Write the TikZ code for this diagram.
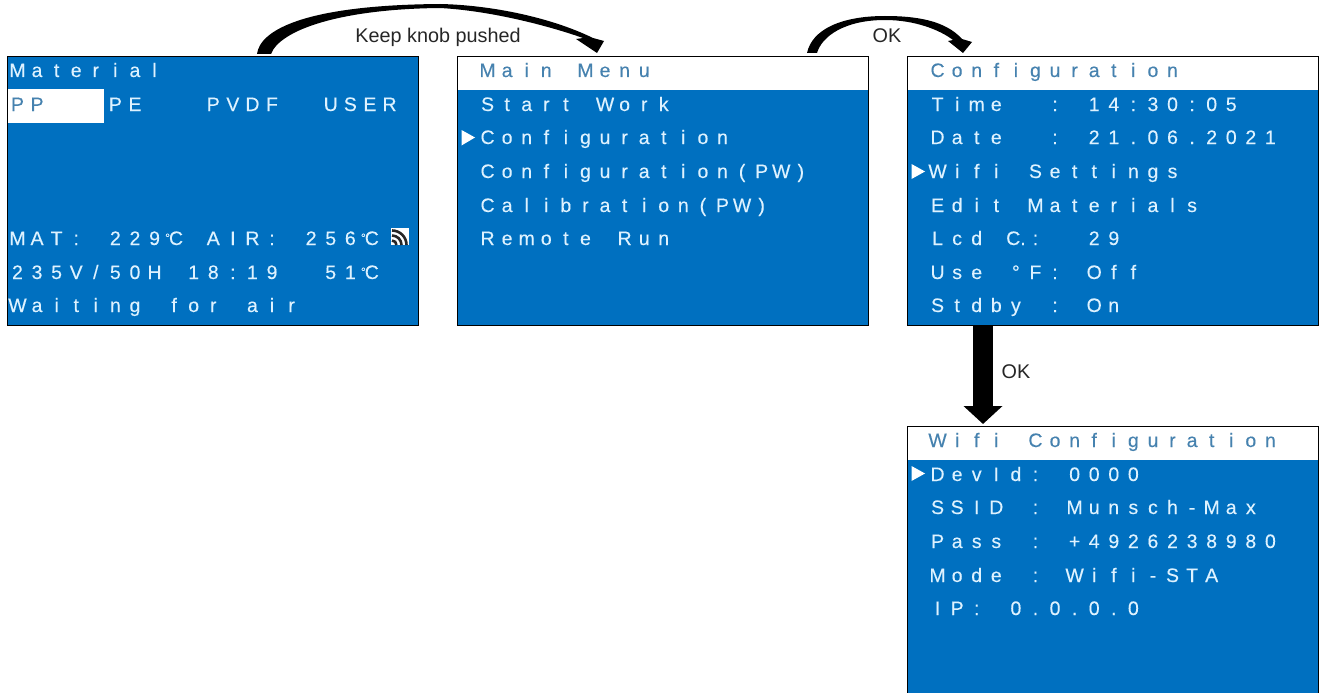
\documentclass[tikz,border=0pt]{standalone}
\usepackage{fontspec}
\setmainfont{Liberation Sans}
\usetikzlibrary{arrows.meta}
\definecolor{lcdblue}{RGB}{0,112,192}
\definecolor{lcdtext}{RGB}{222,242,255}
\definecolor{lcdtitle}{RGB}{70,130,175}
\newlength{\lcdw}
\setlength{\lcdw}{19.58pt}
\ExplSyntaxOn
\cs_new:Npn \lcd_cell:n #1
 { \str_if_eq:nnTF {#1} {℃}
   { \makebox[\lcdw][c]{\raisebox{3pt}{\fontsize{12}{12}\selectfont °}\kern-1pt C} }
   { \makebox[\lcdw][c]{#1} } }
\NewDocumentCommand \lcdstr { m }
 { \str_map_inline:nn {#1} { \lcd_cell:n {##1} } }
\ExplSyntaxOff
\tikzset{
  panel/.style={draw=black,line width=1pt,fill=lcdblue,inner sep=0pt,anchor=north west,minimum width=411pt},
  band/.style={fill=white,inner sep=0pt,anchor=north west},
  lcdline/.style={inner sep=0pt,anchor=base west,text=lcdtext,font=\fontsize{19.5}{19.5}\selectfont\addfontfeature{FakeBold=0.2}},
  lcdhead/.style={lcdline,text=lcdtitle},
  marker/.style={fill=white},
  note/.style={inner sep=0pt,text=black!85,font=\fontsize{19.8}{19.8}\selectfont},
  curvearrow/.style={fill=black},
}
% name, left of column 0, column, row centre, text
\newcommand{\lcd}[6][lcdline]{\node[#1] (#2) at ({#3+#4*19.58},{#5+7}) {\lcdstr{#6}};}
\begin{document}
\begin{tikzpicture}[x=1pt,y=-1pt]
\useasboundingbox (0,0) rectangle (1325,693);
% panels
\node[panel,minimum height=269pt] (p1) at (6.5,56) {};
\node[panel,minimum height=269pt] (p2) at (457,56) {};
\node[panel,minimum height=269pt] (p3) at (907,56) {};
\node[panel,minimum height=280pt] (p4) at (907,426) {};
% white bands
\node[band,minimum width=96pt,minimum height=34pt] (b1) at (8,89) {};
\node[band,minimum width=410pt,minimum height=32.5pt] (b2) at (458,57) {};
\node[band,minimum width=410pt,minimum height=32.5pt] (b3) at (908,57) {};
\node[band,minimum width=410pt,minimum height=32.5pt] (b4) at (908,427) {};
% panel 1
\lcd{a1}{7.5}{0}{70}{Material}
\lcd[lcdhead]{a2}{7.5}{0}{104}{PP}
\lcd{a3}{7.5}{5}{104}{PE}
\lcd{a4}{7.5}{10}{104}{PVDF}
\lcd{a5}{7.5}{16}{104}{USER}
\lcd{a6}{7.5}{0}{238}{MAT: 229℃ AIR: 256℃}
\lcd{a7}{7.5}{0}{272}{235V/50H 18:19^^a0 51℃}
\lcd{a8}{7.5}{0}{305}{Waiting for air}
% panel 2
\lcd[lcdhead]{c1}{458}{1}{70}{Main Menu}
\lcd{c2}{458}{1}{104}{Start Work}
\lcd{c3}{458}{1}{137}{Configuration}
\lcd{c4}{458}{1}{171}{Configuration(PW)}
\lcd{c5}{458}{1}{205}{Calibration(PW)}
\lcd{c6}{458}{1}{238}{Remote Run}
% panel 3
\lcd[lcdhead]{d1}{908}{1}{70}{Configuration}
\lcd{d2}{908}{1}{104}{Time^^a0 : 14:30:05}
\lcd{d3}{908}{1}{137}{Date^^a0 : 21.06.2021}
\lcd{d4}{908}{1}{171}{Wifi Settings}
\lcd{d5}{908}{1}{205}{Edit Materials}
\lcd{d6}{908}{1}{238}{Lcd}
\node[lcdline] (d6b) at (1006,245) {C.};
\lcd{d6c}{908}{6}{238}{:^^a0 29}
\lcd{d7}{908}{1}{272}{Use °F: Off}
\lcd{d8}{908}{1}{305}{Stdby : On}
% panel 4
\lcd[lcdhead]{e1}{908}{1}{440}{Wifi Configuration}
\lcd{e2}{908}{1}{474}{DevId: 0000}
\lcd{e3}{908}{1}{507}{SSID : Munsch-Max}
\lcd{e4}{908}{1}{541}{Pass : +4926238980}
\lcd{e5}{908}{1}{575}{Mode : Wifi-STA}
\lcd{e6}{908}{1}{608}{IP: 0.0.0.0}
% selection markers
\fill[marker] (461.5,130) -- (475,137.5) -- (461.5,145.5) -- cycle;
\fill[marker] (911.5,164) -- (925,171.5) -- (911.5,179) -- cycle;
\fill[marker] (911.5,466) -- (925,473.5) -- (911.5,481) -- cycle;
% wifi glyph
\fill[white!90!lcdtext] (391,228) rectangle (409,245);
\begin{scope}
\clip (391,228) rectangle (409,245);
\foreach \r in {4.5,9.5,14.5}{\draw[black!85,line width=2.6pt] (392,245) ++(0,-\r) arc[start angle=90,end angle=0,radius=\r pt];}
\end{scope}
% connectors
\coordinate (k1) at ([xshift=250.5pt,yshift=2pt]p1.north west);
\coordinate (k2) at ([xshift=140pt,yshift=3pt]p2.north west);
\coordinate (k3) at ([xshift=350pt,yshift=3pt]p2.north west);
\coordinate (k4) at ([xshift=56pt,yshift=3pt]p3.north west);
\coordinate (k5) at ([xshift=76pt]p3.south west);
\coordinate (k6) at ([xshift=76pt]p4.north west);
\fill[curvearrow] (k1) .. controls (260,30) and (305,5) .. (440,4)
  .. controls (490,5) and (550,17) .. (593,38) -- (604,41) -- (k2)
  -- (576,39) -- (583,38) .. controls (555,28) and (495,11) .. (440,8)
  .. controls (340,9) and (280,30) .. ([xshift=14pt]k1) -- cycle;
\fill[curvearrow] (k3) .. controls (812,30) and (840,16) .. (885,16)
  .. controls (915,16) and (945,20) .. (962,39) -- (972,42) -- (k4)
  -- (948,41) -- (953,40) .. controls (940,30) and (915,20) .. (885,20)
  .. controls (845,20) and (822,36) .. ([xshift=10pt]k3) -- cycle;
\draw[line width=20pt,-{Triangle[width=38pt,length=18pt]},shorten >=2pt] (k5) -- (k6);
% labels
\node[note,anchor=base] (n1) at (438,42.5) {Keep knob pushed};
\node[note,anchor=base] (n2) at (887,42.5) {OK};
\node[note,anchor=base] (n3) at (1016,378.5) {OK};
\end{tikzpicture}
\end{document}
